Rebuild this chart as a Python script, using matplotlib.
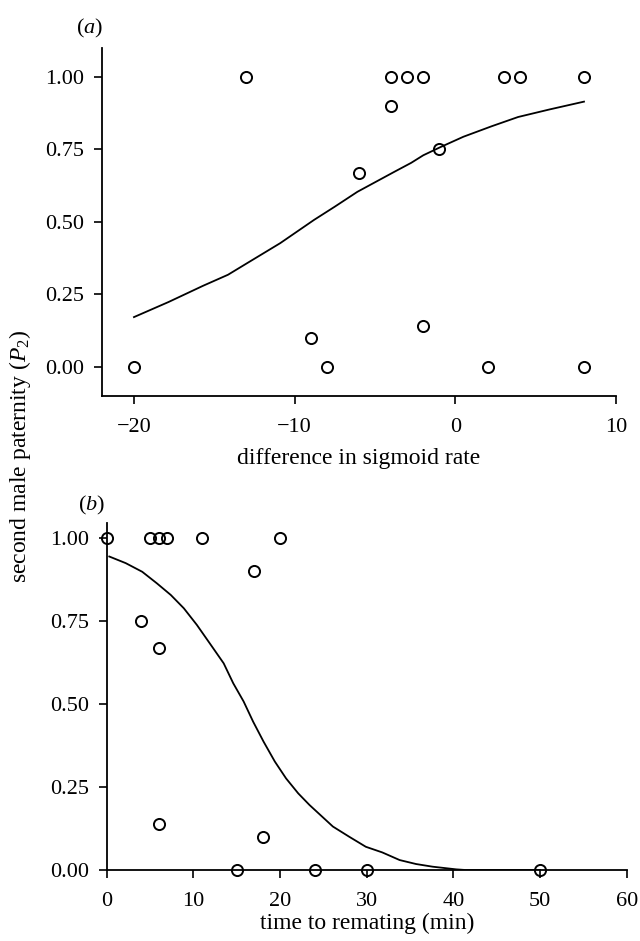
import matplotlib
matplotlib.use("Agg")
import matplotlib.pyplot as plt

plt.rcParams['font.family'] = ['Liberation Serif', 'DejaVu Serif']
plt.rcParams['mathtext.fontset'] = 'custom'
plt.rcParams['mathtext.rm'] = 'Liberation Serif'
plt.rcParams['mathtext.it'] = 'Liberation Serif:italic'

# (a) difference in sigmoid rate vs second male paternity
a_x = [-20, -13, -4, -3, -2, 3, 4, 8, -4, -1, -6, -9, -8, -2, 2, 8]
a_y = [0.0, 1.0, 1.0, 1.0, 1.0, 1.0, 1.0, 1.0, 0.90, 0.75, 0.67, 0.10, 0.0, 0.14, 0.0, 0.0]
# fitted curve
a_fit_x = [-20, -17.85, -15.7, -14.15, -12.9, -10.9, -9.85, -8.8, -7.5, -6.1,
           -3.8, -2.75, -2.0, -0.9, 0.5, 2.25, 3.9, 5.85, 8]
a_fit_y = [0.172, 0.224, 0.280, 0.318, 0.360, 0.427, 0.467, 0.507, 0.553, 0.604,
           0.673, 0.704, 0.730, 0.759, 0.794, 0.830, 0.862, 0.888, 0.915]

# (b) time to remating vs second male paternity
b_x = [0, 5, 6, 7, 11, 20, 17, 4, 6, 6, 18, 15, 24, 30, 50]
b_y = [1.0, 1.0, 1.0, 1.0, 1.0, 1.0, 0.90, 0.75, 0.67, 0.14, 0.10, 0.0, 0.0, 0.0, 0.0]
b_fit_x = [0.3, 2.2, 4.1, 5.8, 7.4, 8.9, 10.4, 11.9, 13.5, 14.6, 15.8, 16.9, 18.1,
           19.4, 20.7, 22.1, 23.4, 26.1, 28.0, 29.9, 31.8, 33.8, 35.7, 37.6, 40.3,
           41.4, 50]
b_fit_y = [0.945, 0.925, 0.899, 0.864, 0.829, 0.789, 0.739, 0.683, 0.623, 0.563,
           0.508, 0.447, 0.387, 0.327, 0.276, 0.231, 0.196, 0.131, 0.100, 0.070,
           0.053, 0.030, 0.018, 0.010, 0.002, 0.0, 0.0]

yticks = [0, 0.25, 0.5, 0.75, 1.0]
fs_tick = 16
fs_lab = 17

fig = plt.figure(figsize=(6.4, 9.41), dpi=100)
ax1 = fig.add_axes([0.1591, 0.5792, 0.8036, 0.3698])
ax2 = fig.add_axes([0.1667, 0.07545, 0.8125, 0.3691])

for ax in (ax1, ax2):
    ax.spines['top'].set_visible(False)
    ax.spines['right'].set_visible(False)
    ax.spines['left'].set_linewidth(1.3)
    ax.spines['bottom'].set_linewidth(1.3)
    ax.tick_params(direction='out', length=6, width=1.2, labelsize=fs_tick, pad=7)
    ax.tick_params(axis='x', pad=10)
    ax.set_yticks(yticks)
    ax.set_yticklabels(['%.2f' % v for v in yticks])

ax1.plot(a_fit_x, a_fit_y, color='k', lw=1.3)
ax1.plot(a_x, a_y, 'o', mfc='none', mec='k', ms=8, mew=1.4, clip_on=False)
ax1.set_xlim(-22, 10)
ax1.set_ylim(-0.1, 1.1)
ax1.set_xticks([-20, -10, 0, 10])
ax1.set_xlabel('difference in sigmoid rate', fontsize=fs_lab, labelpad=8)

ax2.plot(b_fit_x, b_fit_y, color='k', lw=1.3)
ax2.plot(b_x, b_y, 'o', mfc='none', mec='k', ms=8, mew=1.4, clip_on=False)
ax2.set_xlim(0, 60)
ax2.set_ylim(0, 1.047)
ax2.set_xticks([0, 10, 20, 30, 40, 50, 60])
ax2.set_xlabel('time to remating (min)', fontsize=fs_lab, labelpad=1)

fig.text(90/640, 1 - 28/941, '($a$)', fontsize=fs_tick, ha='center', va='center')
fig.text(92/640, 1 - 505/941, '($b$)', fontsize=fs_tick, ha='center', va='center')
fig.text(20/640, 1 - 456/941, 'second male paternity ($P_2$)', fontsize=fs_lab,
         rotation=90, ha='center', va='center')

fig.savefig('out.png', dpi=100)
